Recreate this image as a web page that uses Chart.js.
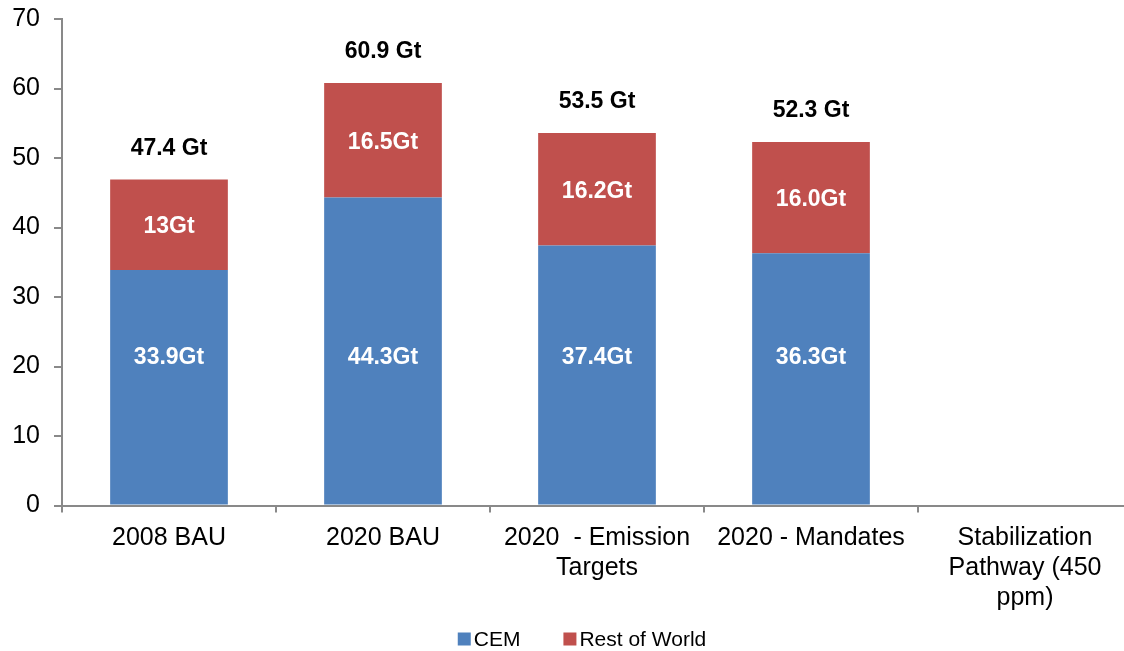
<!DOCTYPE html>
<html>
<head>
<meta charset="utf-8">
<script src="https://cdn.jsdelivr.net/npm/chart.js@4.4.1/dist/chart.umd.min.js"></script>
<style>
  html, body { margin: 0; padding: 0; background: #ffffff; overflow: hidden; }
  #wrap { width: 1124px; height: 651px; position: relative; overflow: hidden; }
  #c { position: absolute; left: 0; top: 0; }
</style>
</head>
<body>
<div id="wrap"><canvas id="c" width="1132" height="651"></canvas></div>
<script>
// Scenario categories (multi-line labels)
const categories = [
  ['2008 BAU'],
  ['2020 BAU'],
  ['2020  - Emission', 'Targets'],
  ['2020 - Mandates'],
  ['Stabilization', 'Pathway (450', 'ppm)']
];
// Emissions by group, Gt
const cemValues = [33.9, 44.3, 37.4, 36.3, null];
const rowValues = [13, 16.5, 16.2, 16.0, null];
// Decimals shown in each segment label
const cemDigits = [1, 1, 1, 1, 1];
const rowDigits = [0, 1, 1, 1, 1];
// Totals printed above each bar, Gt
const totalLabels = [47.4, 60.9, 53.5, 52.3, null];
// Y axis ticks
const yTicks = [0, 10, 20, 30, 40, 50, 60, 70];

const FONT = "'Liberation Sans', Arial, sans-serif";
const AXIS_GREY = '#898989';
const CEM_LABEL_LEVEL = 21.3; // CEM segment labels sit on one common line

const labelPlugin = {
  id: 'barLabels',
  afterDatasetsDraw(chart) {
    const ctx = chart.ctx;
    const yScale = chart.scales.y;
    ctx.save();
    ctx.textAlign = 'center';
    ctx.textBaseline = 'middle';
    ctx.font = 'bold 23px ' + FONT;
    const digits = [cemDigits, rowDigits];
    chart.data.datasets.forEach((ds, di) => {
      const meta = chart.getDatasetMeta(di);
      meta.data.forEach((bar, i) => {
        const v = ds.data[i];
        if (v == null) return;
        const y = di === 0 ? yScale.getPixelForValue(CEM_LABEL_LEVEL) : (bar.y + bar.base) / 2 + 2;
        ctx.fillStyle = '#ffffff';
        ctx.fillText(v.toFixed(digits[di][i]) + 'Gt', bar.x, y);
      });
    });
    // totals above the stacks
    const topMeta = chart.getDatasetMeta(chart.data.datasets.length - 1);
    ctx.fillStyle = '#000000';
    topMeta.data.forEach((bar, i) => {
      const t = totalLabels[i];
      if (t == null) return;
      ctx.fillText(t.toFixed(1) + ' Gt', bar.x, bar.y - 31);
    });
    ctx.restore();
  }
};

// Compact legend row under the axis labels
const legendPlugin = {
  id: 'bottomLegend',
  afterDraw(chart) {
    const ctx = chart.ctx;
    const box = 13, boxGap = 3, itemGap = 43, centerX = 582, centerY = 639;
    ctx.save();
    ctx.font = '21px ' + FONT;
    ctx.textBaseline = 'middle';
    ctx.textAlign = 'left';
    const items = chart.data.datasets.map(ds => ({ text: ds.label, color: ds.backgroundColor, w: ctx.measureText(ds.label).width }));
    let total = 0;
    items.forEach((it, i) => { total += box + boxGap + it.w + (i < items.length - 1 ? itemGap : 0); });
    let x = centerX - total / 2;
    items.forEach(it => {
      ctx.fillStyle = it.color;
      ctx.fillRect(x, centerY - box / 2, box, box);
      x += box + boxGap;
      ctx.fillStyle = '#000000';
      ctx.fillText(it.text, x, centerY + 1);
      x += it.w + itemGap;
    });
    ctx.restore();
  }
};

new Chart(document.getElementById('c'), {
  type: 'bar',
  data: {
    labels: categories,
    datasets: [
      { label: 'CEM', data: cemValues, backgroundColor: '#4F81BD', barPercentage: 0.55, categoryPercentage: 1.0 },
      { label: 'Rest of World', data: rowValues, backgroundColor: '#C0504D', barPercentage: 0.55, categoryPercentage: 1.0 }
    ]
  },
  options: {
    responsive: false,
    animation: false,
    devicePixelRatio: 1,
    layout: { padding: { top: 19, right: 0, left: 0, bottom: 0 } },
    plugins: {
      tooltip: { enabled: false },
      legend: { display: false }
    },
    scales: {
      x: {
        stacked: true,
        offset: true,
        grid: {
          display: true,
          offset: true,
          drawOnChartArea: false,
          drawTicks: true,
          tickLength: 7,
          color: AXIS_GREY,
          lineWidth: 2
        },
        border: { display: true, color: AXIS_GREY, width: 2 },
        ticks: {
          color: '#000000',
          font: { family: FONT, size: 25, lineHeight: 1.2 },
          maxRotation: 0,
          autoSkip: false,
          padding: 11
        },
        afterFit(scale) { scale.height = 145.5; scale.paddingLeft = 0; scale.paddingRight = 0; }
      },
      y: {
        stacked: true,
        min: 0,
        max: 70,
        afterBuildTicks(scale) { scale.ticks = yTicks.map(v => ({ value: v })); },
        grid: {
          display: true,
          drawOnChartArea: false,
          drawTicks: true,
          tickLength: 8,
          color: AXIS_GREY,
          lineWidth: 2
        },
        border: { display: true, color: AXIS_GREY, width: 2 },
        ticks: {
          color: '#000000',
          font: { family: FONT, size: 25 },
          padding: 14
        },
        afterFit(scale) { scale.width = 62; scale.paddingTop = 0; scale.paddingBottom = 0; }
      }
    }
  },
  plugins: [labelPlugin, legendPlugin]
});
</script>
</body>
</html>
